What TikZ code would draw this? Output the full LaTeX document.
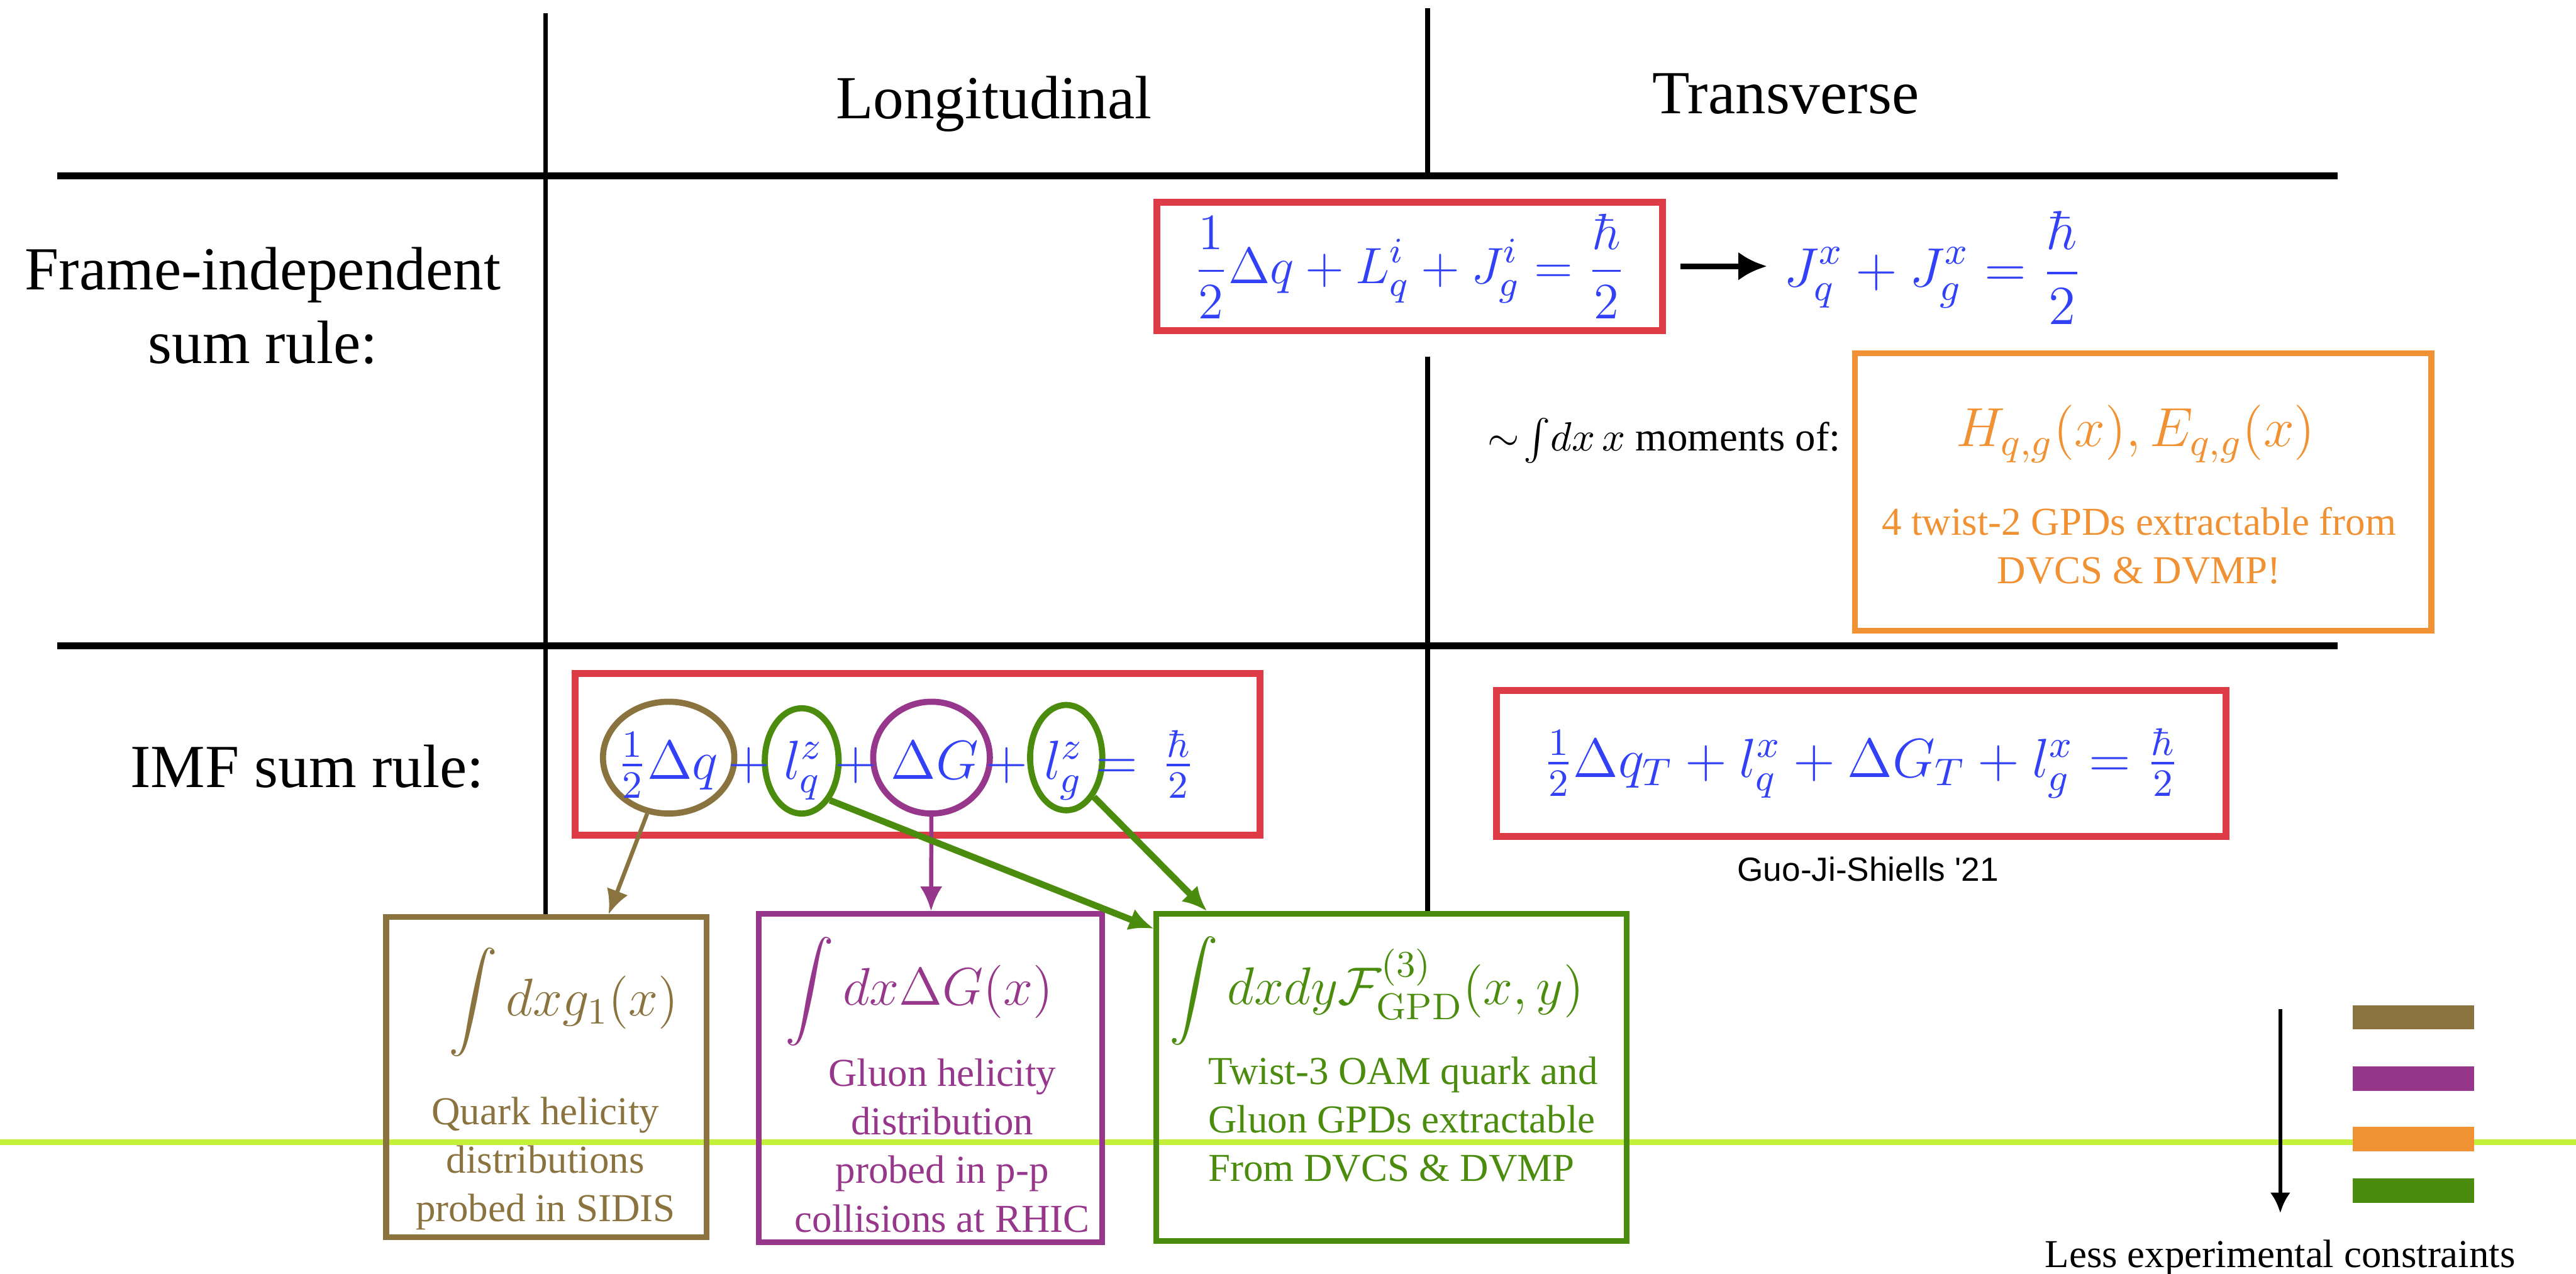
\documentclass[tikz,border=0pt]{standalone}
\usepackage{fix-cm}
\usepackage{amsmath}
\usepackage[no-math]{fontspec}
\setmainfont{Liberation Serif}
\newfontfamily\citesans{Liberation Sans}
\usetikzlibrary{arrows.meta,positioning,shapes.geometric}
\definecolor{sumred}{RGB}{221,60,70}
\definecolor{eqblue}{RGB}{50,65,245}
\definecolor{gpdorange}{RGB}{240,146,52}
\definecolor{qbrown}{RGB}{139,115,64}
\definecolor{gpurple}{RGB}{150,55,140}
\definecolor{oamgreen}{RGB}{75,140,15}
\definecolor{slidelime}{RGB}{196,240,58}

\begin{document}
\begin{tikzpicture}[x=0.4027pt, y=-0.4027pt,
  >={Latex[length=6pt,width=5.5pt]},
  hrule/.style={line width=1.6pt},
  vrule/.style={line width=1.1pt},
  head/.style={font=\fontsize{15}{18}\selectfont, align=center},
  eqn/.style={text=eqblue, font=\fontsize{13.5}{16}\selectfont, inner sep=1pt},
  sumbox/.style={draw=sumred, line width=1.7pt, inner sep=0pt},
  ring/.style={ellipse, draw=#1, line width=1.5pt, inner sep=0pt},
  srcbox/.style={draw=#1, line width=1.4pt, inner sep=0pt},
  intg/.style={text=#1, font=\fontsize{13}{16}\selectfont, inner sep=0pt},
  desc/.style={text=#1, font=\fontsize{9.7}{11.9}\selectfont, align=center, inner sep=0pt},
  legbar/.style={fill=#1, minimum width=29.8pt, minimum height=6pt, inner sep=0pt},
]
\useasboundingbox (0,0) rectangle (1568,775);

% slide rule behind everything
\draw[slidelime, line width=1.3pt] (0,695) -- (1568,695);

% table grid
\draw[hrule] (35,107) -- (1423,107);
\draw[hrule] (35,393) -- (1423,393);
\draw[vrule] (332,8) -- (332,558);
\draw[vrule] (869,5) -- (869,107);
\draw[vrule] (869,217) -- (869,556);

\node[head, anchor=base] (longi) at (605,72) {Longitudinal};
\node[head, anchor=base] (trans) at (1087,69) {Transverse};
\node[head] (firow) at (160,186) {Frame-independent\\sum rule:};
\node[head, anchor=base] (imfrow) at (187,479) {IMF sum rule:};

% frame-independent row
\node[sumbox, eqn, font=\fontsize{12.5}{15}\selectfont, minimum width=124pt, minimum height=31.4pt] (fi) at (858,162)
  {$\displaystyle\frac{1}{2}\Delta q+L_q^i+J_g^i=\frac{\hbar}{2}$};
\node[eqn, anchor=west] (jx) at (1083,163) {$\displaystyle J_q^x+J_g^x=\frac{\hbar}{2}$};
\draw[->, >={Latex[length=7pt,width=7pt]}, line width=1.4pt, shorten <=3.5pt, shorten >=3pt]
  (fi.east) -- (fi.east -| jx.west);

\node[font=\fontsize{10}{12}\selectfont, anchor=east, inner sep=0pt] (mom) at (1121,268) {$\sim\!\int\! dx\,x$ moments of:};
\node[srcbox=gpdorange, minimum width=141.3pt, minimum height=68pt] (hebox) at (1304.5,299.5) {};
\node[eqn, text=gpdorange] (he) at (1300,264) {$H_{q,g}(x), E_{q,g}(x)$};
\node[desc=gpdorange] (hetxt) at (1302,332) {4 twist-2 GPDs extractable from\\DVCS \& DVMP!};

% IMF row
\node[sumbox, minimum width=168pt, minimum height=39.5pt] (imf) at (558.5,459) {};
\node[ring=qbrown, minimum width=32.2pt, minimum height=27.4pt] (dq) at (407,461) {};
\node[ring=oamgreen, minimum width=18.1pt, minimum height=25.8pt] (lq) at (488,463) {};
\node[ring=gpurple, minimum width=28.6pt, minimum height=27.4pt] (dG) at (567,461) {};
\node[ring=oamgreen, minimum width=17.7pt, minimum height=25.8pt] (lg) at (649,461) {};
\node[eqn, anchor=base] (dqtx) at (406.5,474) {$\frac{1}{2}\Delta q$};
\node[eqn, anchor=base] (plus1) at (456,474) {$+$};
\node[eqn, anchor=base] (lqtx) at (489,474) {$l_q^z$};
\node[eqn, anchor=base] (plus2) at (521,474) {$+$};
\node[eqn, anchor=base] (dGtx) at (569,474) {$\Delta G$};
\node[eqn, anchor=base] (plus3) at (613,474) {$+$};
\node[eqn, anchor=base] (lgtx) at (647.5,474) {$l_g^z$};
\node[eqn, anchor=base] (eqtx) at (697,474) {$=\,\frac{\hbar}{2}$};

% transverse row
\node[sumbox, eqn, minimum width=178.8pt, minimum height=35.8pt] (tr) at (1133,464.5)
  {$\frac{1}{2}\Delta q_T+l_q^x+\Delta G_T+l_g^x=\frac{\hbar}{2}$};
\node[font=\citesans\fontsize{8.2}{10}\selectfont] (cite) at (1137,529) {Guo-Ji-Shiells '21};

% what measures each piece
\node[srcbox=qbrown, minimum width=78.5pt, minimum height=78.5pt] (qbox) at (332.5,655.5) {};
\node[intg=qbrown] (qint) at (343,610) {$\displaystyle\int dx g_1(x)$};
\node[desc=qbrown] (qtxt) at (332,708) {Quark helicity\\distributions\\probed in SIDIS};

\node[srcbox=gpurple, minimum width=84.2pt, minimum height=80.5pt] (gbox) at (566.5,656) {};
\node[intg=gpurple] (gint) at (559.5,603.5) {$\displaystyle\int dx\Delta G(x)$};
\node[desc=gpurple] (gtxt) at (573.5,697) {Gluon helicity\\distribution\\probed in p-p\\collisions at RHIC};

\node[srcbox=oamgreen, minimum width=115.2pt, minimum height=80.1pt] (gpd) at (847,655.5) {};
\node[intg=oamgreen] (gpdint) at (838,603) {$\displaystyle\int dxdy\mathcal{F}^{(3)}_{\mathrm{GPD}}(x,y)$};
\node[desc=oamgreen, align=left, anchor=west] (gpdtxt) at (735,681) {Twist-3 OAM quark and\\Gluon GPDs extractable\\From DVCS \& DVMP};

\draw[->, qbrown, line width=1pt] (dq) -- (qbox);
\draw[->, gpurple, line width=1pt] (dG) -- (gbox);
\draw[->, oamgreen, line width=1.6pt] (lq.south east) -- (gpd.148);
\draw[->, oamgreen, line width=1.6pt] (lg.south east) -- (gpd.138);

% legend
\coordinate (ltop) at (1388,614);
\node[font=\fontsize{9.7}{12}\selectfont, anchor=base] (less) at (1388,771) {Less experimental constraints};
\draw[->, line width=1pt, >={Latex[length=5pt,width=5pt]}, shorten >=3pt] (ltop) -- (less);
\foreach \col/\yy [count=\i] in {qbrown/619,gpurple/656.5,gpdorange/693,oamgreen/724.5}
  \node[legbar=\col] (bar\i) at (1469,\yy) {};
\end{tikzpicture}
\end{document}
